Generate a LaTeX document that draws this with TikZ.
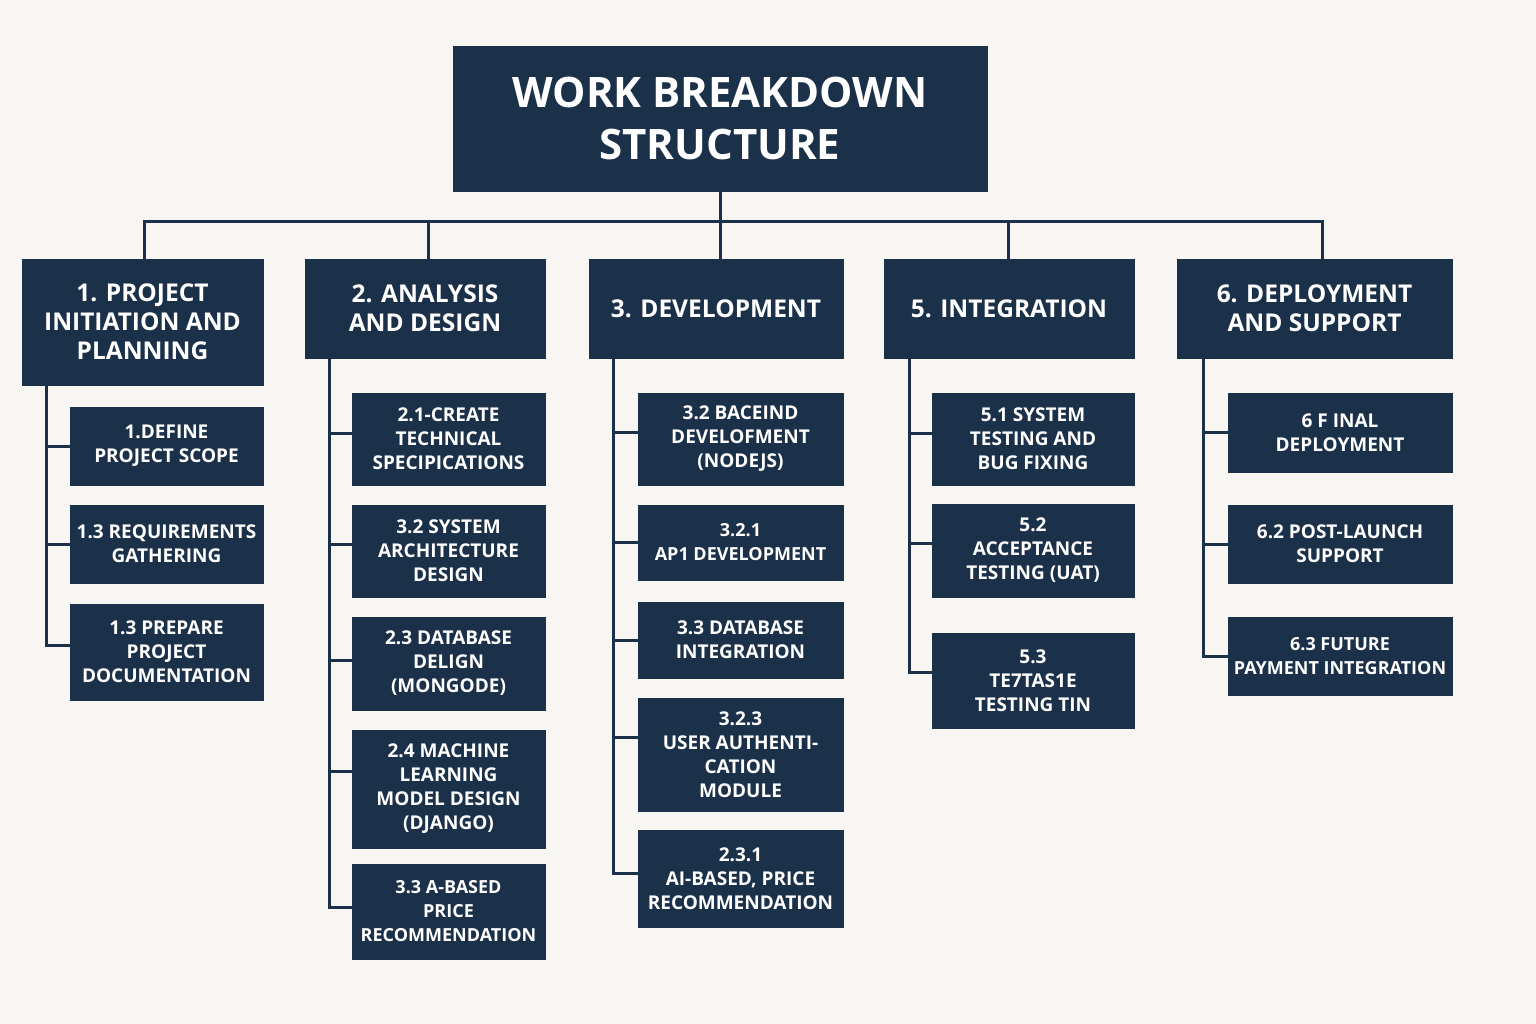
\documentclass[tikz,border=0pt]{standalone}
\usepackage{fontspec}
\setmainfont{Open Sans}
\definecolor{navy}{HTML}{1B3049}
\definecolor{bg}{HTML}{F8F6F2}
\begin{document}
\begin{tikzpicture}[x=1pt,y=-1pt,
  box/.style={fill=navy,draw=navy,text=white,align=center,inner sep=0pt,font=\bfseries},
  titlebox/.style={box,font=\fontsize{42}{52}\selectfont\bfseries},
  topbox/.style={box,font=\fontsize{24.5}{29}\selectfont\bfseries},
  subbox/.style={box,font=\fontsize{19}{24}\selectfont\bfseries},
  smallsub/.style={box,font=\fontsize{18}{24}\selectfont\bfseries},
  conn/.style={draw=navy,line width=3pt}]
\fill[bg] (0,0) rectangle (1536,1024);
\useasboundingbox (0,0) rectangle (1536,1024);

% title
\node[titlebox,minimum width=534,minimum height=145] (title) at (720,118.5) {WORK BREAKDOWN\\STRUCTURE};

% level 1
\node[topbox,minimum width=241,minimum height=126] (p1) at (142.5,322) {1. PROJECT\\INITIATION AND\\PLANNING};
\node[topbox,minimum width=240,minimum height=99] (p2) at (425,308.5) {2. ANALYSIS\\AND DESIGN};
\node[topbox,minimum width=254,minimum height=99] (p3) at (716,308.5) {3. DEVELOPMENT};
\node[topbox,minimum width=250,minimum height=99] (p5) at (1009,308.5) {5. INTEGRATION};
\node[topbox,minimum width=275,minimum height=99] (p6) at (1314.5,308.5) {6. DEPLOYMENT\\AND SUPPORT};

% column 1
\node[subbox,minimum width=193,minimum height=78] (c11) at (166.5,446) {1.DEFINE\\PROJECT SCOPE};
\node[subbox,minimum width=193,minimum height=78] (c12) at (166.5,544) {1.3 REQUIREMENTS\\GATHERING};
\node[subbox,minimum width=193,minimum height=96] (c13) at (166.5,652) {1.3 PREPARE\\PROJECT\\DOCUMENTATION};

% column 2
\node[subbox,minimum width=193,minimum height=92] (c21) at (448.5,439) {2.1-CREATE\\TECHNICAL\\SPECIPICATIONS};
\node[subbox,minimum width=193,minimum height=92] (c22) at (448.5,551) {3.2 SYSTEM\\ARCHITECTURE\\DESIGN};
\node[subbox,minimum width=193,minimum height=93] (c23) at (448.5,663.5) {2.3 DATABASE\\DELIGN\\(MONGODE)};
\node[subbox,minimum width=193,minimum height=118] (c24) at (448.5,789) {2.4 MACHINE\\LEARNING\\MODEL DESIGN\\(DJANGO)};
\node[smallsub,minimum width=193,minimum height=95] (c25) at (448.5,911.5) {3.3 A-BASED\\PRICE\\RECOMMENDATION};

% column 3
\node[subbox,minimum width=205,minimum height=92] (c31) at (740.5,439) {3.2 BACEIND\\DEVELOFMENT\\(NODEJS)};
\node[smallsub,minimum width=205,minimum height=75] (c32) at (740.5,542.5) {3.2.1\\AP1 DEVELOPMENT};
\node[subbox,minimum width=205,minimum height=76] (c33) at (740.5,640) {3.3 DATABASE\\INTEGRATION};
\node[subbox,minimum width=205,minimum height=113] (c34) at (740.5,754.5) {3.2.3\\USER AUTHENTI-\\CATION\\MODULE};
\node[subbox,minimum width=205,minimum height=97] (c35) at (740.5,878.5) {2.3.1\\AI-BASED, PRICE\\RECOMMENDATION};

% column 5
\node[subbox,minimum width=202,minimum height=92] (c51) at (1033,439) {5.1 SYSTEM\\TESTING AND\\BUG FIXING};
\node[subbox,minimum width=202,minimum height=93] (c52) at (1033,550.5) {5.2\\ACCEPTANCE\\TESTING (UAT)};
\node[subbox,minimum width=202,minimum height=95] (c53) at (1033,680.5) {5.3\\TE7TAS1E\\TESTING TIN};

% column 6
\node[subbox,minimum width=224,minimum height=79] (c61) at (1340,432.5) {6 F INAL\\DEPLOYMENT};
\node[subbox,minimum width=224,minimum height=78] (c62) at (1340,544) {6.2 POST-LAUNCH\\SUPPORT};
\node[smallsub,minimum width=224,minimum height=78] (c63) at (1340,656) {6.3 FUTURE\\PAYMENT INTEGRATION};

% bus
\coordinate (busL) at (144,222);
\coordinate (busR) at (1322,222);
\coordinate (bus2) at (428,222);
\coordinate (bus5) at (1008,222);
\coordinate (bus3) at (720,222);
\draw[conn] (busL |- p1.north) -- (busL) -- (busR) -- (busR |- p6.north);
\draw[conn] (title.south) -- (bus3 |- p3.north);
\draw[conn] (bus2) -- (bus2 |- p2.north);
\draw[conn] (bus5) -- (bus5 |- p5.north);

% trunks
\coordinate (t1) at (46,385);
\coordinate (t2) at (329,358);
\coordinate (t3) at (613,358);
\coordinate (t5) at (909,358);
\coordinate (t6) at (1203,358);

\draw[conn] (t1) |- (c11.west);
\draw[conn] (t1) |- (c12.west);
\draw[conn] (t1) |- ([yshift=7pt]c13.west);

\draw[conn] (t2) |- ([yshift=6pt]c21.west);
\draw[conn] (t2) |- ([yshift=7pt]c22.west);
\draw[conn] (t2) |- ([yshift=3pt]c23.west);
\draw[conn] (t2) |- ([yshift=18pt]c24.west);
\draw[conn] (t2) |- ([yshift=4pt]c25.west);

\draw[conn] (t3) |- ([yshift=7pt]c31.west);
\draw[conn] (t3) |- (c32.west);
\draw[conn] (t3) |- (c33.west);
\draw[conn] (t3) |- ([yshift=17pt]c34.west);
\draw[conn] (t3) |- ([yshift=5pt]c35.west);

\draw[conn] (t5) |- ([yshift=6pt]c51.west);
\draw[conn] (t5) |- ([yshift=7pt]c52.west);
\draw[conn] (t5) |- ([yshift=8pt]c53.west);

\draw[conn] (t6) |- (c61.west);
\draw[conn] (t6) |- (c62.west);
\draw[conn] (t6) |- (c63.west);
\end{tikzpicture}
\end{document}
